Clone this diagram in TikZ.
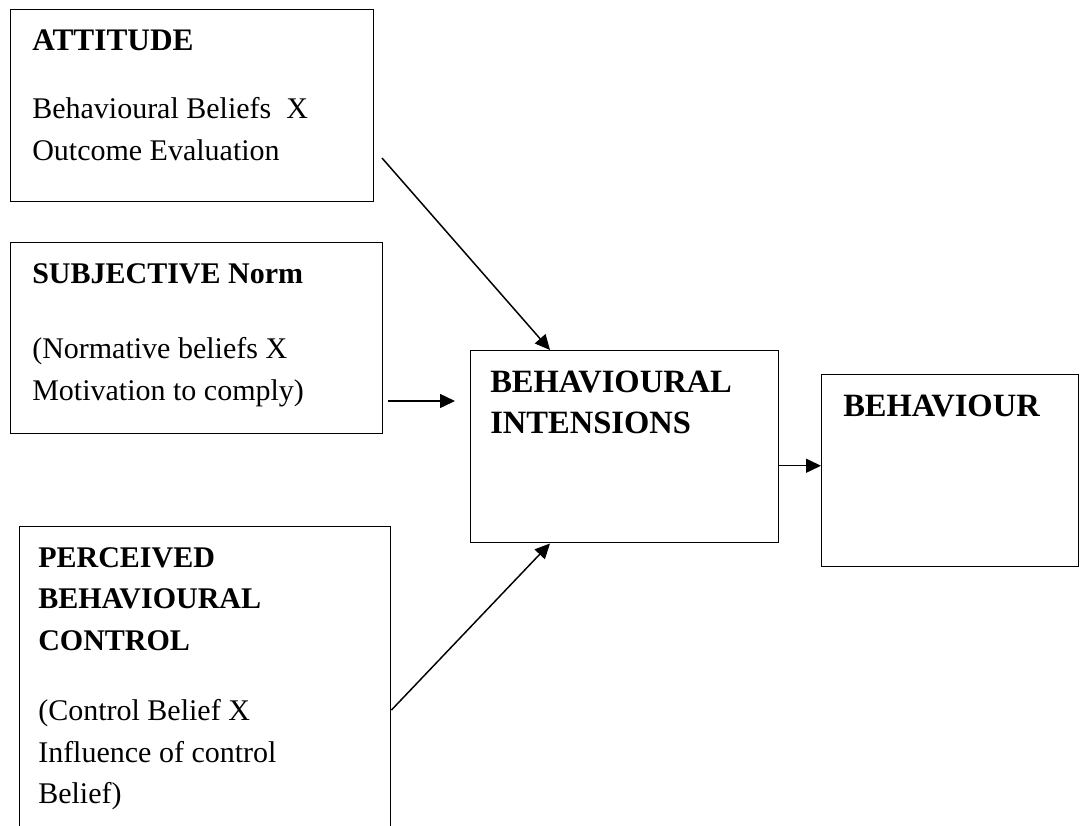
\documentclass[tikz,border=0pt]{standalone}
\usepackage{fontspec}
\setmainfont{Liberation Serif}
\usetikzlibrary{arrows.meta,calc}
\tikzset{
  boxnode/.style={draw=black, line width=1.1pt, inner sep=0pt, anchor=north west},
  txt/.style={inner sep=0pt, anchor=base west, font=\fontsize{22.5pt}{27pt}\selectfont},
  head/.style={txt, font=\fontsize{22.5pt}{27pt}\selectfont\bfseries},
  bighead/.style={txt, font=\fontsize{24.4pt}{29pt}\selectfont\bfseries},
  conn/.style={draw=black, line width=1.1pt, -{Triangle[length=11.25pt,width=10.5pt]}}
}
\begin{document}
\begin{tikzpicture}[x=0.75pt,y=-0.75pt]
\useasboundingbox (0,0) rectangle (1080,825);
\fill[white] (0,0) rectangle (1080,825);
\clip (0,0) rectangle (1080,825);
% boxes
\node[boxnode, minimum width=272.25pt, minimum height=144pt] (att) at (10,9) {};
\node[boxnode, minimum width=279pt, minimum height=143.25pt] (norm) at (10,242) {};
\node[boxnode, minimum width=231pt, minimum height=144pt] (bi) at (470,350) {};
\node[boxnode, minimum width=192.75pt, minimum height=144pt] (beh) at (821,374) {};
\node[boxnode, minimum width=278.25pt, minimum height=247.5pt] (pbc) at (19,526) {};
% texts
\node[txt, font=\fontsize{23.5pt}{28pt}\selectfont\bfseries] (t1) at (32,50) {ATTITUDE};
\node[txt] (t2) at (32,118) {Behavioural Beliefs\ \ X};
\node[txt] (t3) at (32,160) {Outcome Evaluation};
\node[head] (t4) at (32,283) {SUBJECTIVE Norm};
\node[txt] (t5) at (32,358) {(Normative beliefs X};
\node[txt] (t6) at (32,400) {Motivation to comply)};
\node[bighead] (t7) at (490,392) {BEHAVIOURAL};
\node[bighead] (t8) at (490,433) {INTENSIONS};
\node[bighead] (t9) at (843,416) {BEHAVIOUR};
\node[head] (t10) at (38,567) {PERCEIVED};
\node[head] (t11) at (38,608) {BEHAVIOURAL};
\node[head] (t12) at (38,650) {CONTROL};
\node[txt] (t13) at (38,720) {(Control Belief X};
\node[txt] (t14) at (38,762) {Influence of control};
\node[txt] (t15) at (38,803) {Belief)};
% connectors
\coordinate (a1s) at (382,158);
\draw[conn] (a1s) -- ([xshift=60pt]bi.north west);
\coordinate (a2s) at (388,401);
\coordinate (a2e) at (455,401);
\draw[conn] (a2s) -- (a2e);
\draw[conn] ([yshift=-138pt]pbc.north east) -- ([xshift=60pt]bi.south west);
\draw[conn] ([yshift=-14.25pt]bi.east) -- ([yshift=-14.25pt]bi.east -| beh.west);
\end{tikzpicture}
\end{document}
